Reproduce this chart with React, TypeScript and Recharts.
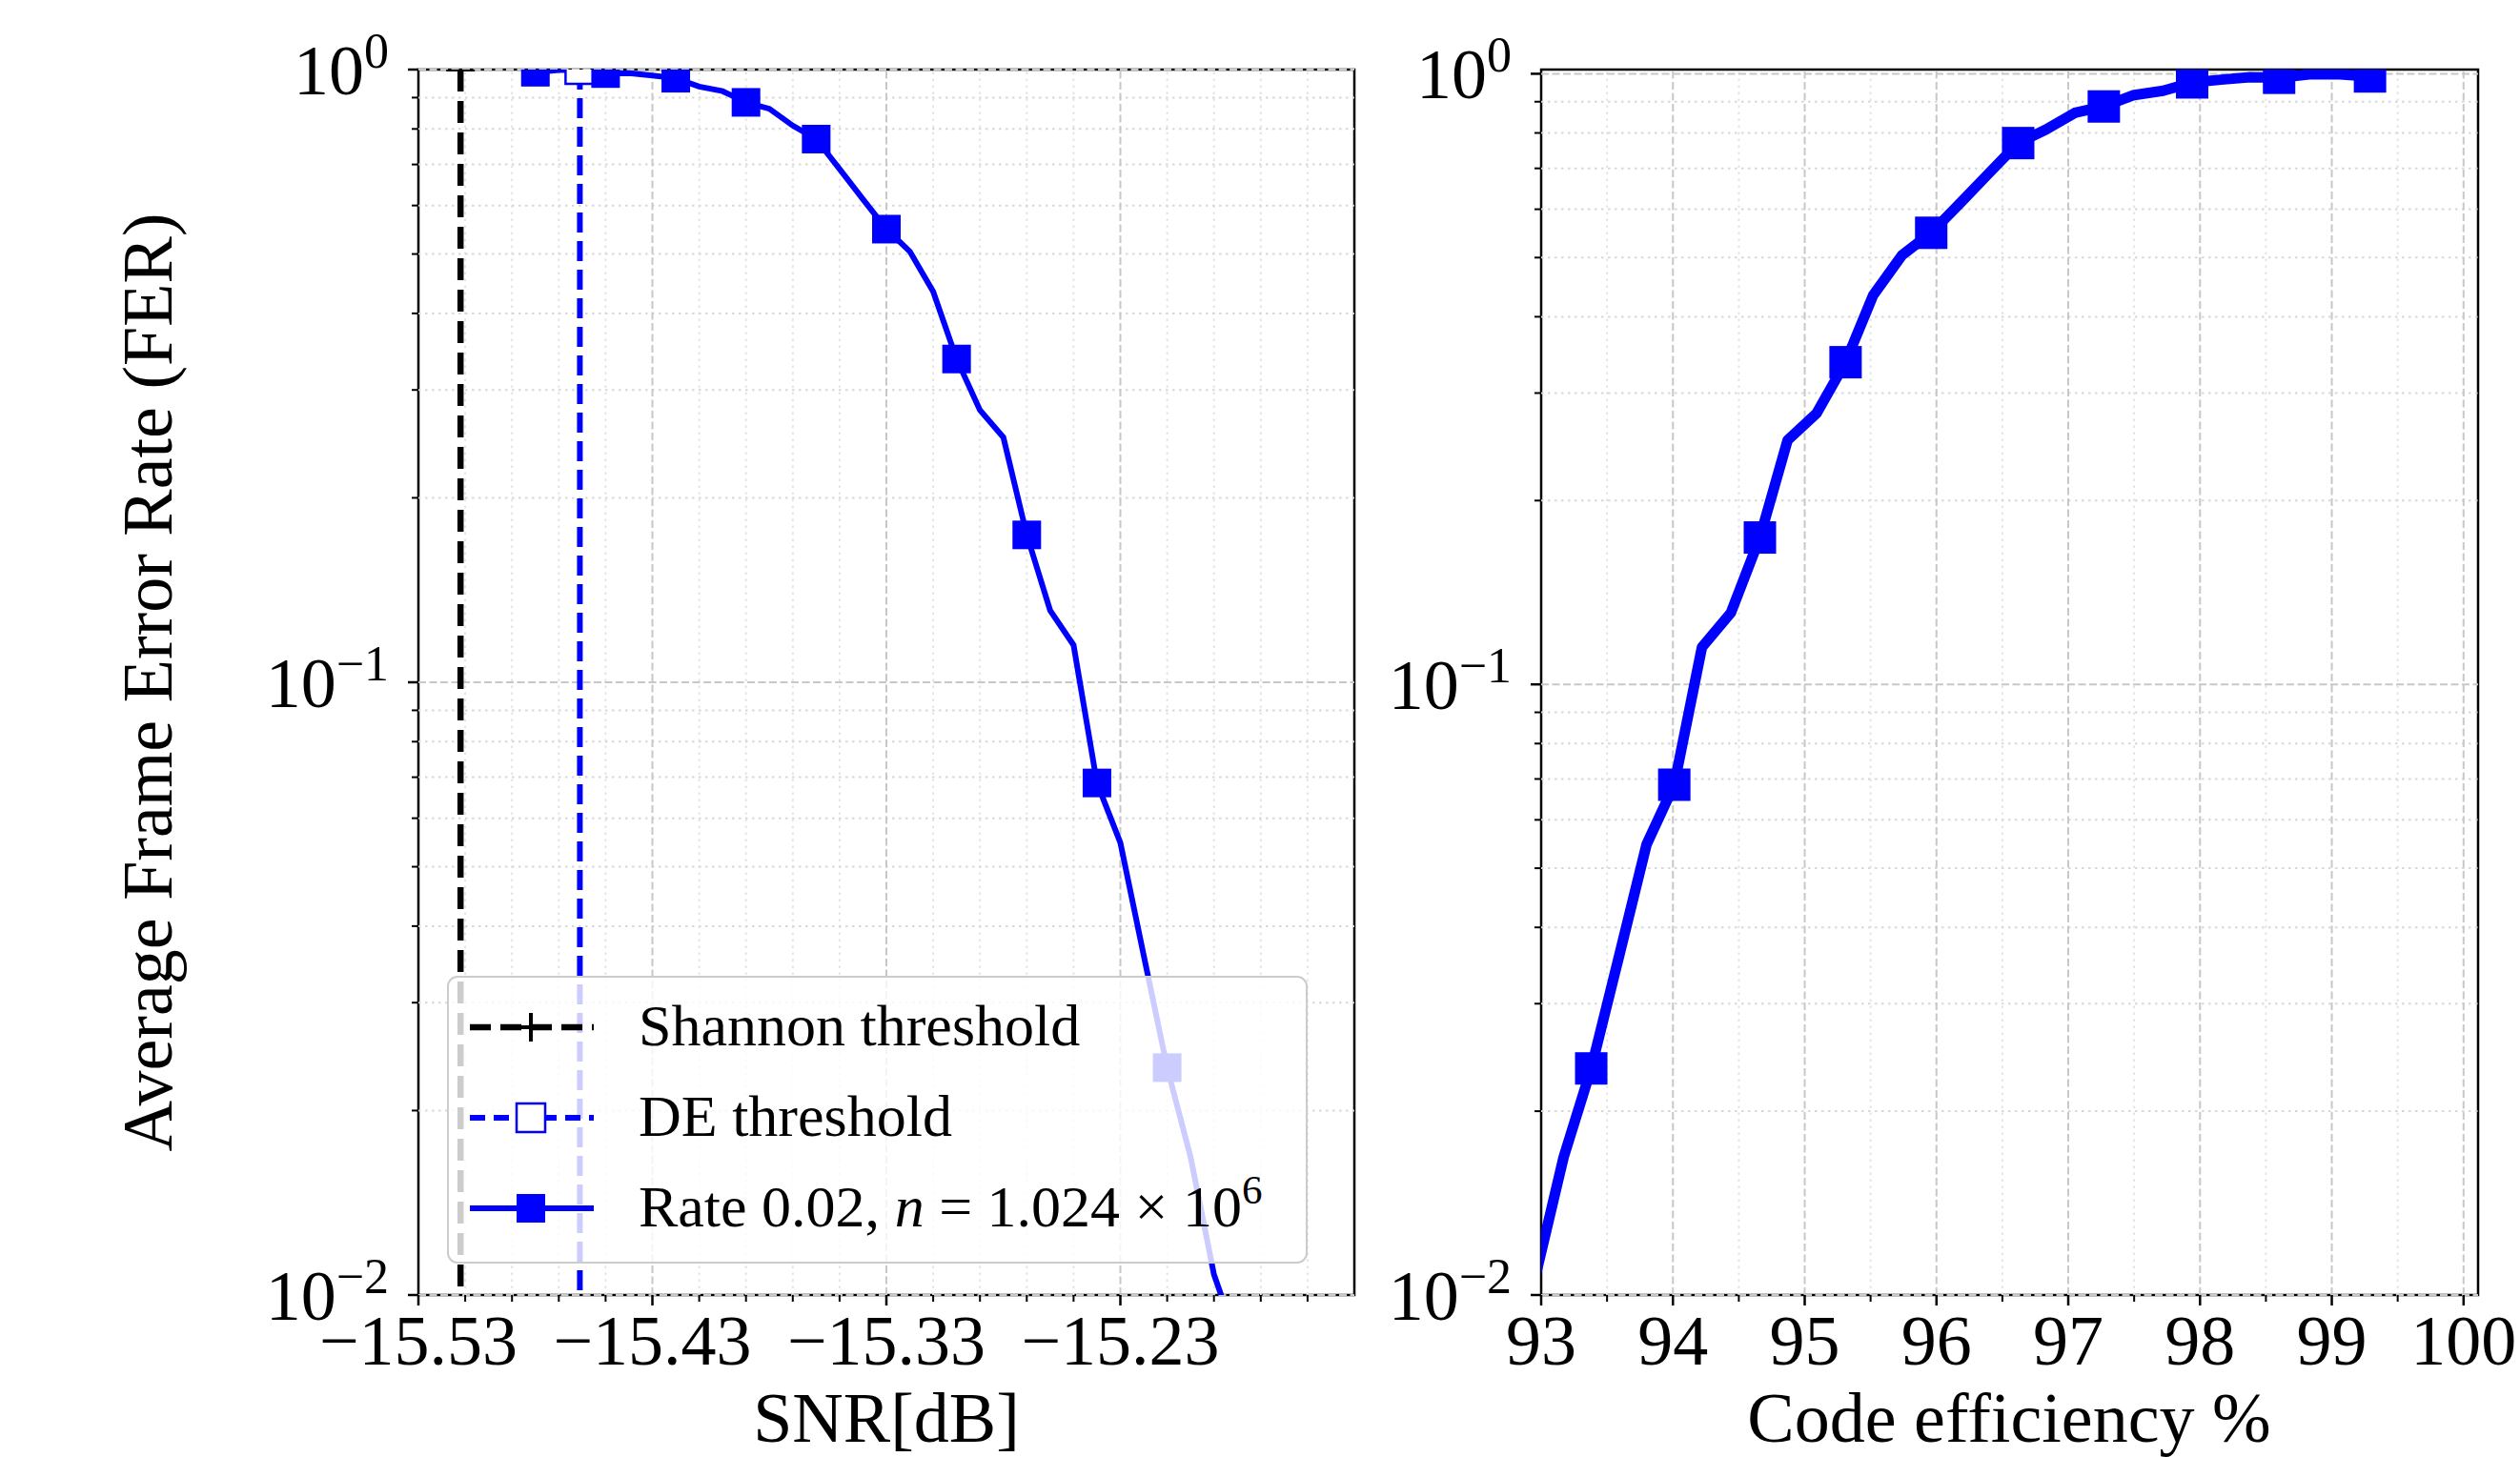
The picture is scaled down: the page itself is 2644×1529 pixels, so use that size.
import { Line, LineChart, ReferenceArea, ReferenceLine, XAxis, YAxis } from 'recharts'

const blue = '#0000ff'
const serif = '"Liberation Serif", "Times New Roman", serif'

// plot box (both panels share the same vertical extent)
const plotTop = 73
const plotBottom = 1359

// FER curve, one point every 0.01 dB, marker on every third point
const snrDb = [
  -15.48, -15.47, -15.46, -15.45, -15.44, -15.43, -15.42, -15.41, -15.4, -15.39, -15.38,
  -15.37, -15.36, -15.35, -15.34, -15.33, -15.32, -15.31, -15.3, -15.29, -15.28, -15.27,
  -15.26, -15.25, -15.24, -15.23, -15.22, -15.21, -15.2, -15.19, -15.18,
]
const efficiency = [
  99.29, 99.06, 98.83, 98.6, 98.38, 98.16, 97.94, 97.72, 97.49, 97.27, 97.05, 96.83, 96.62,
  96.4, 96.18, 95.96, 95.74, 95.52, 95.31, 95.09, 94.87, 94.66, 94.44, 94.22, 94.01, 93.8,
  93.59, 93.38, 93.17, 92.96, 92.75,
]
const fer = [
  0.99, 0.998, 0.998, 0.985, 0.987, 0.978, 0.968, 0.938, 0.922, 0.884, 0.863, 0.81, 0.77,
  0.688, 0.614, 0.549, 0.505, 0.434, 0.337, 0.278, 0.251, 0.174, 0.131, 0.115, 0.0685,
  0.0547, 0.0358, 0.0235, 0.0168, 0.0108, 0.0084,
]

const shannonSnr = -15.512
const deSnr = -15.461
const thresholdFer = [1, 0.001]

const snrTicks = [-15.53, -15.43, -15.33, -15.23]
const snrTickLabels = ['−15.53', '−15.43', '−15.33', '−15.23']
const snrMinorTicks = [
  -15.51, -15.49, -15.47, -15.45, -15.41, -15.39, -15.37, -15.35, -15.31, -15.29, -15.27,
  -15.25, -15.21, -15.19, -15.17, -15.15,
]
const effTicks = [93, 94, 95, 96, 97, 98, 99, 100]
const effMinorTicks = [93.5, 94.5, 95.5, 96.5, 97.5, 98.5, 99.5]
const ferTicks = [0.01, 0.1, 1]
const ferExponents = ['−2', '−1', '0']
const ferMinorTicks = [
  0.02, 0.03, 0.04, 0.05, 0.06, 0.07, 0.08, 0.09, 0.2, 0.3, 0.4, 0.5, 0.6, 0.7, 0.8, 0.9,
]

const snrCurve = snrDb.map((x, i) => ({ x, y: fer[i] }))
const effCurve = efficiency.map((x, i) => ({ x, y: fer[i] }))
const shannonLine = thresholdFer.map((y) => ({ x: shannonSnr, y }))
const deLine = thresholdFer.map((y) => ({ x: deSnr, y }))

// clip a marker box to the plot area vertically (matplotlib clips markers at the axes)
function clipBox(cy: number, half: number) {
  const y0 = Math.max(cy - half, plotTop)
  const y1 = Math.min(cy + half, plotBottom)
  return y1 > y0 ? [y0, y1] : null
}

function squareDot(size: number) {
  return (props: any) => {
    const { cx, cy, index } = props
    const box = cy == null ? null : clipBox(cy, size / 2)
    if (index % 3 !== 0 || cx == null || !box) return <g key={`sq-${index}`} />
    return (
      <rect
        key={`sq-${index}`}
        x={cx - size / 2}
        y={box[0]}
        width={size}
        height={box[1] - box[0]}
        fill={blue}
      />
    )
  }
}

function plusDot(props: any) {
  const { cx, cy, index } = props
  const box = cy == null ? null : clipBox(cy, 15)
  if (!box) return <g key={`plus-${index}`} />
  return (
    <g key={`plus-${index}`} stroke="#000" strokeWidth={4}>
      {cy >= plotTop && cy <= plotBottom && <line x1={cx - 15} x2={cx + 15} y1={cy} y2={cy} />}
      <line x1={cx} x2={cx} y1={box[0]} y2={box[1]} />
    </g>
  )
}

function openSquareDot(props: any) {
  const { cx, cy, index } = props
  const box = cy == null ? null : clipBox(cy, 15)
  if (!box) return <g key={`open-${index}`} />
  return (
    <g key={`open-${index}`}>
      <rect x={cx - 15} y={box[0]} width={30} height={box[1] - box[0]} fill="#fff" />
      <path
        d={`M${cx - 15},${box[0]} L${cx - 15},${box[1]} L${cx + 15},${box[1]} L${cx + 15},${box[0]}`}
        fill="none"
        stroke={blue}
        strokeWidth={2.5}
      />
    </g>
  )
}

function makeXTick(major: number[], labels: string[]) {
  return (props: any) => {
    const { x, y, payload } = props
    const i = major.indexOf(payload.value)
    return (
      <g>
        <line
          x1={x}
          x2={x}
          y1={y}
          y2={y + (i >= 0 ? 11 : 7)}
          stroke="#000"
          strokeWidth={i >= 0 ? 2.5 : 2}
        />
        {i >= 0 && (
          <text x={x} y={y + 73} textAnchor="middle" fontSize={74} fontFamily={serif} fill="#000">
            {labels[i]}
          </text>
        )}
      </g>
    )
  }
}

function FerTick(props: any) {
  const { x, y, payload } = props
  const i = ferTicks.indexOf(payload.value)
  return (
    <g>
      <line
        x1={x - (i >= 0 ? 11 : 7)}
        x2={x}
        y1={y}
        y2={y}
        stroke="#000"
        strokeWidth={i >= 0 ? 2.5 : 2}
      />
      {i >= 0 && (
        <text x={x - 31} y={y + 26} textAnchor="end" fontSize={74} fontFamily={serif} fill="#000">
          10
          <tspan dy={-28} fontSize={52}>
            {ferExponents[i]}
          </tspan>
        </text>
      )}
    </g>
  )
}

const snrTick = makeXTick(snrTicks, snrTickLabels)
const effTick = makeXTick(
  effTicks,
  effTicks.map((t) => String(t)),
)

function grid(xMajor: number[], xMinor: number[]) {
  return [
    ...xMinor.map((v) => (
      <ReferenceLine key={`xm-${v}`} x={v} stroke="#e4e4e4" strokeWidth={2} strokeDasharray="2.5 4.5" />
    )),
    ...ferMinorTicks.map((v) => (
      <ReferenceLine key={`ym-${v}`} y={v} stroke="#d8d8d8" strokeWidth={2} strokeDasharray="2.5 4.5" />
    )),
    ...xMajor.map((v) => (
      <ReferenceLine key={`xM-${v}`} x={v} stroke="#c8c8c8" strokeWidth={2} strokeDasharray="8 3.5" />
    )),
    ...ferTicks.map((v) => (
      <ReferenceLine key={`yM-${v}`} y={v} stroke="#c8c8c8" strokeWidth={2} strokeDasharray="8 3.5" />
    )),
  ]
}

function SnrChart() {
  return (
    <LineChart
      width={1500}
      height={1529}
      margin={{ top: plotTop, right: 79, bottom: 0, left: 0 }}
    >
      <XAxis
        dataKey="x"
        type="number"
        domain={[-15.53, -15.13]}
        allowDataOverflow
        ticks={[...snrTicks, ...snrMinorTicks]}
        interval={0}
        tick={snrTick}
        tickLine={false}
        axisLine={false}
        tickSize={0}
        tickMargin={0}
        height={1529 - plotBottom}
      />
      <YAxis
        dataKey="y"
        type="number"
        scale="log"
        domain={[0.01, 1]}
        allowDataOverflow
        ticks={[...ferTicks, ...ferMinorTicks]}
        interval={0}
        tick={FerTick}
        tickLine={false}
        axisLine={false}
        tickSize={0}
        tickMargin={0}
        width={439}
      />
      {grid([-15.43, -15.33, -15.23], snrMinorTicks)}
      <Line
        data={shannonLine}
        dataKey="y"
        type="linear"
        stroke="#000"
        strokeWidth={6.5}
        strokeDasharray="23 10"
        dot={plusDot}
        activeDot={false}
        isAnimationActive={false}
      />
      <Line
        data={deLine}
        dataKey="y"
        type="linear"
        stroke={blue}
        strokeWidth={6}
        strokeDasharray="21 9"
        dot={openSquareDot}
        activeDot={false}
        isAnimationActive={false}
      />
      <Line
        data={snrCurve}
        dataKey="y"
        type="linear"
        stroke={blue}
        strokeWidth={6}
        dot={squareDot(30)}
        activeDot={false}
        isAnimationActive={false}
      />
      <ReferenceArea
        x1={-15.53}
        x2={-15.13}
        y1={0.01}
        y2={1}
        fill="none"
        fillOpacity={0}
        stroke="#000"
        strokeWidth={2.5}
      />
    </LineChart>
  )
}

function EfficiencyChart() {
  return (
    <LineChart
      width={1444}
      height={1529}
      margin={{ top: plotTop, right: 44, bottom: 0, left: 0 }}
    >
      <XAxis
        dataKey="x"
        type="number"
        domain={[93, 100.11]}
        allowDataOverflow
        ticks={[...effTicks, ...effMinorTicks]}
        interval={0}
        tick={effTick}
        tickLine={false}
        axisLine={false}
        tickSize={0}
        tickMargin={0}
        height={1529 - plotBottom}
      />
      <YAxis
        dataKey="y"
        type="number"
        scale="log"
        domain={[0.01, 1.016]}
        allowDataOverflow
        ticks={[...ferTicks, ...ferMinorTicks]}
        interval={0}
        tick={FerTick}
        tickLine={false}
        axisLine={false}
        tickSize={0}
        tickMargin={0}
        width={417}
      />
      {grid([94, 95, 96, 97, 98, 99, 100], effMinorTicks)}
      <Line
        data={effCurve}
        dataKey="y"
        type="linear"
        stroke={blue}
        strokeWidth={11}
        strokeLinejoin="round"
        dot={squareDot(34)}
        activeDot={false}
        isAnimationActive={false}
      />
      <ReferenceArea
        x1={93}
        x2={100.11}
        y1={0.01}
        y2={1.016}
        fill="none"
        fillOpacity={0}
        stroke="#000"
        strokeWidth={2.5}
      />
    </LineChart>
  )
}

function Legend() {
  const rows = [1078, 1173, 1268]
  return (
    <g fontFamily={serif} fontSize={62} fill="#000">
      <rect
        x={470}
        y={1025}
        width={901}
        height={300}
        rx={10}
        fill="#fff"
        fillOpacity={0.8}
        stroke="#cccccc"
        strokeWidth={2}
      />
      <line x1={493} x2={623} y1={rows[0]} y2={rows[0]} stroke="#000" strokeWidth={6.5} strokeDasharray="22 10" />
      <g stroke="#000" strokeWidth={4}>
        <line x1={542} x2={572} y1={rows[0]} y2={rows[0]} />
        <line x1={557} x2={557} y1={rows[0] - 15} y2={rows[0] + 15} />
      </g>
      <text x={670} y={rows[0] + 19}>Shannon threshold</text>

      <line x1={493} x2={623} y1={rows[1]} y2={rows[1]} stroke={blue} strokeWidth={6} strokeDasharray="16 9" />
      <rect x={542} y={rows[1] - 15} width={30} height={30} fill="#fff" stroke={blue} strokeWidth={2.5} />
      <text x={670} y={rows[1] + 19}>DE threshold</text>

      <line x1={493} x2={623} y1={rows[2]} y2={rows[2]} stroke={blue} strokeWidth={6} />
      <rect x={542} y={rows[2] - 15} width={30} height={30} fill={blue} />
      <text x={670} y={rows[2] + 19}>
        Rate 0.02, <tspan fontStyle="italic">n</tspan> = 1.024 × 10
        <tspan dy={-24} fontSize={43}>
          6
        </tspan>
      </text>
    </g>
  )
}

export default function App() {
  return (
    <div
      style={{
        position: 'absolute',
        left: 0,
        top: 0,
        width: 2644,
        height: 1529,
        background: '#fff',
        fontFamily: serif,
      }}
    >
      <div style={{ position: 'absolute', left: 0, top: 0 }}>
        <SnrChart />
      </div>
      <div style={{ position: 'absolute', left: 1200, top: 0 }}>
        <EfficiencyChart />
      </div>
      <svg
        width={2644}
        height={1529}
        style={{ position: 'absolute', left: 0, top: 0, pointerEvents: 'none' }}
        fontFamily={serif}
      >
        <text x={930} y={1513} textAnchor="middle" fontSize={74}>
          SNR[dB]
        </text>
        <text x={2108} y={1513} textAnchor="middle" fontSize={74}>
          Code efficiency %
        </text>
        <text transform="translate(180 716) rotate(-90)" textAnchor="middle" fontSize={74}>
          Average Frame Error Rate (FER)
        </text>
        <Legend />
      </svg>
    </div>
  )
}
